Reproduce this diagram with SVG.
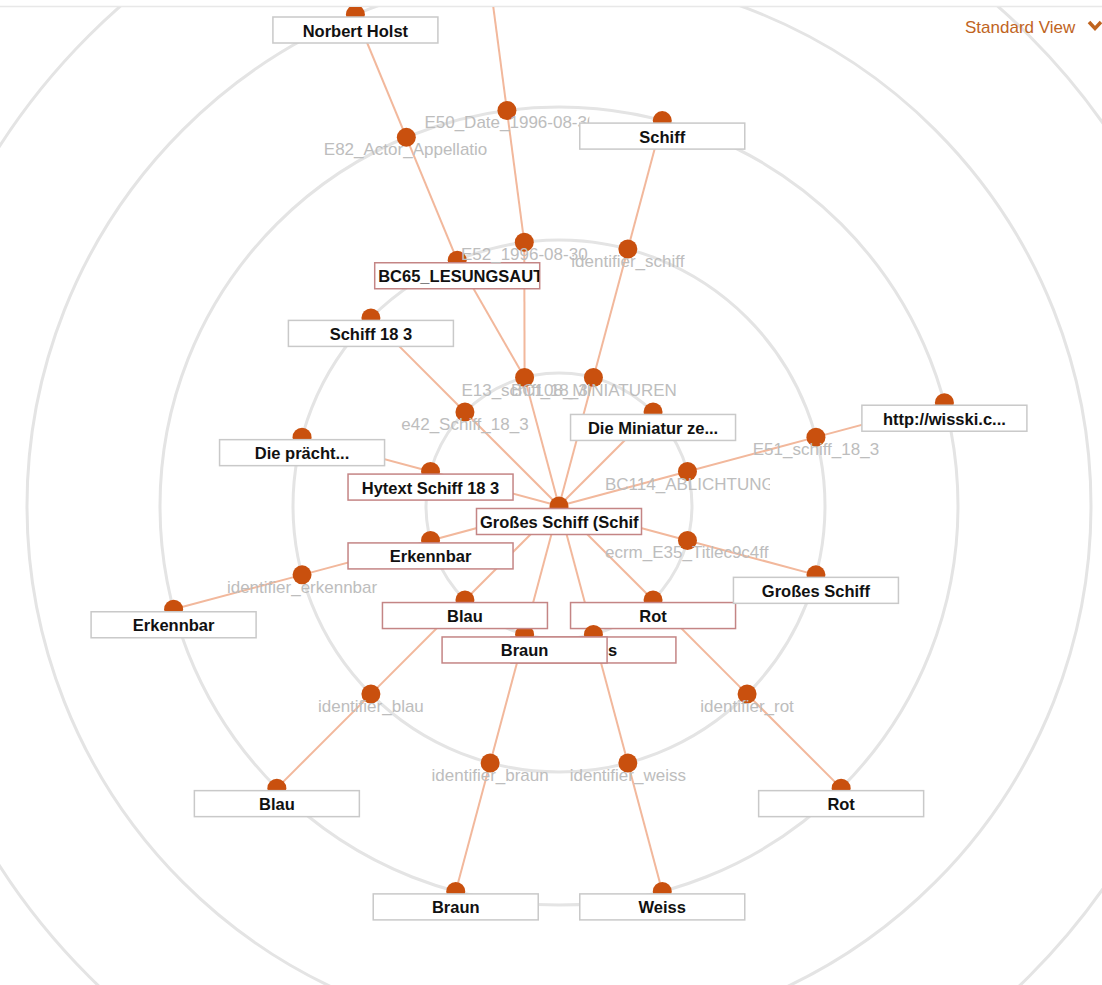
<svg xmlns="http://www.w3.org/2000/svg" width="1102" height="985" viewBox="0 0 1102 985">
<style>
.ring{fill:none;stroke:#e4e4e4;stroke-width:3}
.link{stroke:#f2b89c;stroke-width:2;fill:none}
.dot{fill:#c9500e}
.box{fill:#fff;stroke:#c9c9c9;stroke-width:1.5}
.sel{stroke:#c48585}
.lbl{font-family:"Liberation Sans",Arial,sans-serif;font-weight:bold;font-size:16.5px;fill:#111;text-anchor:middle}
.sub{font-family:"Liberation Sans",Arial,sans-serif;font-size:17px;fill:#bdbdbd;text-anchor:middle}
text.lft{text-anchor:start}
.menu{font-family:"Liberation Sans",Arial,sans-serif;font-size:17px;fill:#c0641e}
</style>
<defs>
<clipPath id="view"><rect x="0" y="7" width="1102" height="978"/></clipPath>
<clipPath id="c-root"><rect x="477" y="509" width="164" height="25"/></clipPath>
<clipPath id="c-bc65"><rect x="375.2" y="263.2" width="164" height="25"/></clipPath>
<clipPath id="c-bc108"><rect x="510.92" y="377" width="165" height="26"/></clipPath>
<clipPath id="c-bc114"><rect x="604.97" y="471" width="165" height="26"/></clipPath>
<clipPath id="c-ecrm"><rect x="604.97" y="540" width="165" height="26"/></clipPath>
<clipPath id="c-e82"><rect x="323.81" y="137" width="165" height="26"/></clipPath>
<clipPath id="c-e50"><rect x="424.42" y="110" width="165" height="26"/></clipPath>
</defs>
<rect x="0" y="0" width="1102" height="985" fill="#fff"/>
<line x1="0" y1="6.5" x2="1102" y2="6.5" stroke="#e8e8e8" stroke-width="1.5"/>
<g clip-path="url(#view)">
<g id="rings">
<circle class="ring" cx="559" cy="506" r="133"/>
<circle class="ring" cx="559" cy="506" r="266"/>
<circle class="ring" cx="559" cy="506" r="399"/>
<circle class="ring" cx="559" cy="506" r="532"/>
<circle class="ring" cx="559" cy="506" r="665"/>
</g>
<g id="links">
<line class="link" x1="559" y1="506" x2="524.58" y2="377.53"/>
<line class="link" x1="559" y1="506" x2="593.42" y2="377.53"/>
<line class="link" x1="559" y1="506" x2="653.05" y2="411.95"/>
<line class="link" x1="559" y1="506" x2="687.47" y2="471.58"/>
<line class="link" x1="559" y1="506" x2="687.47" y2="540.42"/>
<line class="link" x1="559" y1="506" x2="653.05" y2="600.05"/>
<line class="link" x1="559" y1="506" x2="593.42" y2="634.47"/>
<line class="link" x1="559" y1="506" x2="524.58" y2="634.47"/>
<line class="link" x1="559" y1="506" x2="464.95" y2="600.05"/>
<line class="link" x1="559" y1="506" x2="430.53" y2="540.42"/>
<line class="link" x1="559" y1="506" x2="430.53" y2="471.58"/>
<line class="link" x1="559" y1="506" x2="464.95" y2="411.95"/>
<line class="link" x1="524.58" y1="377.53" x2="457.21" y2="260.25"/>
<line class="link" x1="524.58" y1="377.53" x2="524.28" y2="242.28"/>
<line class="link" x1="457.21" y1="260.25" x2="406.31" y2="137.37"/>
<line class="link" x1="406.31" y1="137.37" x2="355.41" y2="14.5"/>
<line class="link" x1="524.28" y1="242.28" x2="506.92" y2="110.41"/>
<line class="link" x1="506.92" y1="110.41" x2="489.56" y2="-21.45"/>
<line class="link" x1="593.42" y1="377.53" x2="627.85" y2="249.06"/>
<line class="link" x1="627.85" y1="249.06" x2="662.27" y2="120.6"/>
<line class="link" x1="687.47" y1="471.58" x2="815.94" y2="437.15"/>
<line class="link" x1="815.94" y1="437.15" x2="944.4" y2="402.73"/>
<line class="link" x1="687.47" y1="540.42" x2="815.94" y2="574.85"/>
<line class="link" x1="653.05" y1="600.05" x2="747.09" y2="694.09"/>
<line class="link" x1="747.09" y1="694.09" x2="841.14" y2="788.14"/>
<line class="link" x1="593.42" y1="634.47" x2="627.85" y2="762.94"/>
<line class="link" x1="627.85" y1="762.94" x2="662.27" y2="891.4"/>
<line class="link" x1="524.58" y1="634.47" x2="490.15" y2="762.94"/>
<line class="link" x1="490.15" y1="762.94" x2="455.73" y2="891.4"/>
<line class="link" x1="464.95" y1="600.05" x2="370.91" y2="694.09"/>
<line class="link" x1="370.91" y1="694.09" x2="276.86" y2="788.14"/>
<line class="link" x1="430.53" y1="540.42" x2="302.06" y2="574.85"/>
<line class="link" x1="302.06" y1="574.85" x2="173.6" y2="609.27"/>
<line class="link" x1="430.53" y1="471.58" x2="302.06" y2="437.15"/>
<line class="link" x1="464.95" y1="411.95" x2="370.91" y2="317.91"/>
</g>
<g id="nodes">
<g id="n-root"><circle class="dot" cx="559" cy="506" r="9.5"/><rect class="box sel" x="476.5" y="508.5" width="165" height="26"/><text class="lbl lft" x="480" y="528" clip-path="url(#c-root)">Großes Schiff (Schif</text></g>
<g id="n-e13"><circle class="dot" cx="524.58" cy="377.53" r="9.5"/><text class="sub" x="524.58" y="395.53">E13_schiff_18_3</text></g>
<g id="n-bc108"><circle class="dot" cx="593.42" cy="377.53" r="9.5"/><text class="sub lft" x="510.92" y="395.53" clip-path="url(#c-bc108)">BC108_MINIATUREN</text></g>
<g id="n-miniatur"><circle class="dot" cx="653.05" cy="411.95" r="9.5"/><rect class="box" x="570.55" y="414.45" width="165" height="26"/><text class="lbl" x="653.05" y="433.95">Die Miniatur ze...</text></g>
<g id="n-bc114"><circle class="dot" cx="687.47" cy="471.58" r="9.5"/><text class="sub lft" x="604.97" y="489.58" clip-path="url(#c-bc114)">BC114_ABLICHTUNG</text></g>
<g id="n-ecrm"><circle class="dot" cx="687.47" cy="540.42" r="9.5"/><text class="sub lft" x="604.97" y="558.42" clip-path="url(#c-ecrm)">ecrm_E35_Titlec9c4ff</text></g>
<g id="n-rot1"><circle class="dot" cx="653.05" cy="600.05" r="9.5"/><rect class="box sel" x="570.55" y="602.55" width="165" height="26"/><text class="lbl" x="653.05" y="622.05">Rot</text></g>
<g id="n-weiss1"><circle class="dot" cx="593.42" cy="634.47" r="9.5"/><rect class="box sel" x="510.92" y="636.97" width="165" height="26"/><text class="lbl" x="593.42" y="656.47">Weiss</text></g>
<g id="n-braun1"><circle class="dot" cx="524.58" cy="634.47" r="9.5"/><rect class="box sel" x="442.08" y="636.97" width="165" height="26"/><text class="lbl" x="524.58" y="656.47">Braun</text></g>
<g id="n-blau1"><circle class="dot" cx="464.95" cy="600.05" r="9.5"/><rect class="box sel" x="382.45" y="602.55" width="165" height="26"/><text class="lbl" x="464.95" y="622.05">Blau</text></g>
<g id="n-erk1"><circle class="dot" cx="430.53" cy="540.42" r="9.5"/><rect class="box sel" x="348.03" y="542.92" width="165" height="26"/><text class="lbl" x="430.53" y="562.42">Erkennbar</text></g>
<g id="n-hytext"><circle class="dot" cx="430.53" cy="471.58" r="9.5"/><rect class="box sel" x="348.03" y="474.08" width="165" height="26"/><text class="lbl" x="430.53" y="493.58">Hytext Schiff 18 3</text></g>
<g id="n-e42"><circle class="dot" cx="464.95" cy="411.95" r="9.5"/><text class="sub" x="464.95" y="429.95">e42_Schiff_18_3</text></g>
<g id="n-bc65"><circle class="dot" cx="457.21" cy="260.25" r="9.5"/><rect class="box sel" x="374.71" y="262.75" width="165" height="26"/><text class="lbl lft" x="378.2" y="282.25" clip-path="url(#c-bc65)">BC65_LESUNGSAUT</text></g>
<g id="n-e52"><circle class="dot" cx="524.28" cy="242.28" r="9.5"/><text class="sub" x="524.28" y="260.28">E52_1996-08-30</text></g>
<g id="n-idschiff"><circle class="dot" cx="627.85" cy="249.06" r="9.5"/><text class="sub" x="627.85" y="267.06">identifier_schiff</text></g>
<g id="n-e51"><circle class="dot" cx="815.94" cy="437.15" r="9.5"/><text class="sub" x="815.94" y="455.15">E51_schiff_18_3</text></g>
<g id="n-grosses"><circle class="dot" cx="815.94" cy="574.85" r="9.5"/><rect class="box" x="733.44" y="577.35" width="165" height="26"/><text class="lbl" x="815.94" y="596.85">Großes Schiff</text></g>
<g id="n-idrot"><circle class="dot" cx="747.09" cy="694.09" r="9.5"/><text class="sub" x="747.09" y="712.09">identifier_rot</text></g>
<g id="n-idweiss"><circle class="dot" cx="627.85" cy="762.94" r="9.5"/><text class="sub" x="627.85" y="780.94">identifier_weiss</text></g>
<g id="n-idbraun"><circle class="dot" cx="490.15" cy="762.94" r="9.5"/><text class="sub" x="490.15" y="780.94">identifier_braun</text></g>
<g id="n-idblau"><circle class="dot" cx="370.91" cy="694.09" r="9.5"/><text class="sub" x="370.91" y="712.09">identifier_blau</text></g>
<g id="n-iderk"><circle class="dot" cx="302.06" cy="574.85" r="9.5"/><text class="sub" x="302.06" y="592.85">identifier_erkennbar</text></g>
<g id="n-praecht"><circle class="dot" cx="302.06" cy="437.15" r="9.5"/><rect class="box" x="219.56" y="439.65" width="165" height="26"/><text class="lbl" x="302.06" y="459.15">Die prächt...</text></g>
<g id="n-schiff183"><circle class="dot" cx="370.91" cy="317.91" r="9.5"/><rect class="box" x="288.41" y="320.41" width="165" height="26"/><text class="lbl" x="370.91" y="339.91">Schiff 18 3</text></g>
<g id="n-e82"><circle class="dot" cx="406.31" cy="137.37" r="9.5"/><text class="sub lft" x="323.81" y="155.37" clip-path="url(#c-e82)">E82_Actor_Appellatio</text></g>
<g id="n-e50"><circle class="dot" cx="506.92" cy="110.41" r="9.5"/><text class="sub lft" x="424.42" y="128.41" clip-path="url(#c-e50)">E50_Date_1996-08-30</text></g>
<g id="n-schiff"><circle class="dot" cx="662.27" cy="120.6" r="9.5"/><rect class="box" x="579.77" y="123.1" width="165" height="26"/><text class="lbl" x="662.27" y="142.6">Schiff</text></g>
<g id="n-http"><circle class="dot" cx="944.4" cy="402.73" r="9.5"/><rect class="box" x="861.9" y="405.23" width="165" height="26"/><text class="lbl" x="944.4" y="424.73">http://wisski.c...</text></g>
<g id="n-rot"><circle class="dot" cx="841.14" cy="788.14" r="9.5"/><rect class="box" x="758.64" y="790.64" width="165" height="26"/><text class="lbl" x="841.14" y="810.14">Rot</text></g>
<g id="n-weiss"><circle class="dot" cx="662.27" cy="891.4" r="9.5"/><rect class="box" x="579.77" y="893.9" width="165" height="26"/><text class="lbl" x="662.27" y="913.4">Weiss</text></g>
<g id="n-braun"><circle class="dot" cx="455.73" cy="891.4" r="9.5"/><rect class="box" x="373.23" y="893.9" width="165" height="26"/><text class="lbl" x="455.73" y="913.4">Braun</text></g>
<g id="n-blau"><circle class="dot" cx="276.86" cy="788.14" r="9.5"/><rect class="box" x="194.36" y="790.64" width="165" height="26"/><text class="lbl" x="276.86" y="810.14">Blau</text></g>
<g id="n-erk"><circle class="dot" cx="173.6" cy="609.27" r="9.5"/><rect class="box" x="91.1" y="611.77" width="165" height="26"/><text class="lbl" x="173.6" y="631.27">Erkennbar</text></g>
<g id="n-norbert"><circle class="dot" cx="355.41" cy="14.5" r="9.5"/><rect class="box" x="272.91" y="17" width="165" height="26"/><text class="lbl" x="355.41" y="36.5">Norbert Holst</text></g>
</g>
</g>
<g id="view-menu">
<text class="menu" x="965" y="33">Standard View</text>
<path d="M1089,22 L1095,28.5 L1101,22" fill="none" stroke="#c0641e" stroke-width="3.5"/>
</g>
</svg>
